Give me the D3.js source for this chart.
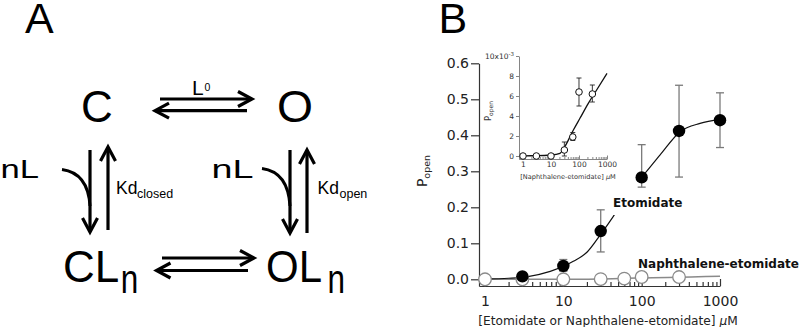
<!DOCTYPE html>
<html><head><meta charset="utf-8">
<script src="https://cdn.jsdelivr.net/npm/d3@7"></script>
<style>
html,body{margin:0;padding:0;background:#fff;}
svg{display:block;}
</style></head>
<body>
<svg id="fig" width="800" height="327"></svg>
<script>
// ---------------- DATA ----------------
const xTickValues = [1, 10, 100, 1000];
const yTickValues = [0, 0.1, 0.2, 0.3, 0.4, 0.5, 0.6];
const yTickLabels = ["0.0", "0.1", "0.2", "0.3", "0.4", "0.5", "0.6"];

// Etomidate (filled circles)
const concEtom = [3, 10, 30, 100, 300, 1000];
const popenEtom = [0.008, 0.037, 0.134, 0.283, 0.412, 0.442];
const errLoEtom = [0.004, 0.022, 0.076, 0.256, 0.284, 0.366];
const errHiEtom = [0.012, 0.055, 0.193, 0.374, 0.539, 0.518];
// Etomidate fit curve
const fitEtomX = [1, 2, 3.4, 6.8, 13.4, 20, 30, 43.5, 75, 103, 171, 310, 556, 1000];
const fitEtomY = [0.001, 0.003, 0.007, 0.022, 0.05, 0.075, 0.125, 0.175, 0.255, 0.287, 0.345, 0.41, 0.433, 0.444];

// Naphthalene-etomidate (open circles), Popen in units of 1e-3
const concNaph = [1, 3, 10, 30, 60, 100, 300];
const popenNaph = [0, 0, 0, 0.6, 1.9, 6.4, 6.2];
const errLoNaph = [0, 0, 0, 0, 1.55, 5.0, 5.4];
const errHiNaph = [0, 0, 0, 1.4, 2.35, 7.8, 7.1];
const fitNaphX = [1, 3, 10, 21, 31, 63, 108, 215, 427, 1000];
const fitNaphY = [0.02, 0.03, 0.1, 0.27, 0.93, 2.6, 3.77, 5.27, 6.6, 8.27];

const insetYTicks = [0, 2, 4, 6, 8, 10];
const insetXTicks = [1, 10, 100, 1000];

// ---------------- DRAW ----------------
const svg = d3.select("#fig");
const ARIAL = "'Liberation Sans', Arial, Helvetica, sans-serif";
const VERD = "'DejaVu Sans', Verdana, sans-serif";

// ===== Panel A (scheme) =====
const A = svg.append("g").attr("font-family", ARIAL).attr("fill", "#000");
A.append("text").attr("x", 25).attr("y", 33).attr("font-size", 43).text("A");
A.append("text").attr("x", 97).attr("y", 122).attr("font-size", 44).attr("text-anchor", "middle").text("C");
A.append("text").attr("x", 295).attr("y", 122).attr("font-size", 44).attr("text-anchor", "middle")
  .attr("textLength", 36).attr("lengthAdjust", "spacingAndGlyphs").text("O");
A.append("text").attr("x", 192).attr("y", 95).attr("font-size", 21).text("L");
A.append("text").attr("x", 204.5).attr("y", 91).attr("font-size", 10.5).text("0");
A.append("text").attr("x", 63).attr("y", 282).attr("font-size", 44).text("CL");
A.append("text").attr("x", 120.7).attr("y", 293).attr("font-size", 40)
  .attr("textLength", 17.5).attr("lengthAdjust", "spacingAndGlyphs").text("n");
A.append("text").attr("x", 266).attr("y", 282).attr("font-size", 44)
  .attr("textLength", 56).attr("lengthAdjust", "spacingAndGlyphs").text("OL");
A.append("text").attr("x", 327.5).attr("y", 293).attr("font-size", 40)
  .attr("textLength", 17.5).attr("lengthAdjust", "spacingAndGlyphs").text("n");
A.append("text").attr("x", 0.5).attr("y", 178).attr("font-size", 25)
  .attr("textLength", 38.5).attr("lengthAdjust", "spacingAndGlyphs").text("nL");
A.append("text").attr("x", 211.5).attr("y", 178).attr("font-size", 25)
  .attr("textLength", 42).attr("lengthAdjust", "spacingAndGlyphs").text("nL");
A.append("text").attr("x", 116).attr("y", 194.3).attr("font-size", 17.5).text("Kd");
A.append("text").attr("x", 137).attr("y", 198.3).attr("font-size", 12.5).text("closed");
A.append("text").attr("x", 317.5).attr("y", 194.3).attr("font-size", 17.5).text("Kd");
A.append("text").attr("x", 339.5).attr("y", 198.3).attr("font-size", 12.5).text("open");

function arrow(x1, y1, x2, y2) {
  const g = A.append("g").attr("stroke", "#000").attr("stroke-width", 3.2).attr("fill", "none");
  g.append("line").attr("x1", x1).attr("y1", y1).attr("x2", x2).attr("y2", y2);
  const ang = Math.atan2(y2 - y1, x2 - x1), L = 14, W = 7.5;
  const bx = x2 - L * Math.cos(ang), by = y2 - L * Math.sin(ang);
  const px = -Math.sin(ang) * W, py = Math.cos(ang) * W;
  g.append("polyline").attr("points", `${bx + px},${by + py} ${x2},${y2} ${bx - px},${by - py}`)
    .attr("stroke-linejoin", "miter");
}
arrow(160, 99, 252, 99);
arrow(247, 110.7, 155, 110.7);
arrow(162, 258, 254, 258);
arrow(248, 270.5, 156.5, 270.5);
arrow(90, 150, 90, 232);
arrow(108, 230, 108, 147);
arrow(290, 150, 290, 233);
arrow(307, 233, 307, 150);
A.append("path").attr("d", "M62,169.5 Q88,173 90,206").attr("stroke", "#000").attr("stroke-width", 3).attr("fill", "none");
A.append("path").attr("d", "M262,168.5 Q288,172 290,206").attr("stroke", "#000").attr("stroke-width", 3).attr("fill", "none");

// ===== Panel B =====
svg.append("text").attr("x", 438.5).attr("y", 33).attr("font-size", 43).attr("font-family", ARIAL).text("B");

const x = d3.scaleLog().domain([0.838, 1000]).range([479, 720]);
const y = d3.scaleLinear().domain([-0.0186, 0.6]).range([286, 63.3]);
const axisColor = "#333";

const B = svg.append("g").attr("font-family", VERD);

// y axis
const yAx = B.append("g").attr("transform", "translate(479,0)")
  .call(d3.axisLeft(y).tickValues(yTickValues).tickFormat((d, i) => yTickLabels[i]).tickSize(8).tickSizeOuter(0).tickPadding(2));
// x axis major
const xAx = B.append("g").attr("transform", "translate(0,286)")
  .call(d3.axisBottom(x).tickValues(xTickValues).tickFormat(d3.format("d")).tickSize(-7).tickSizeOuter(0).tickPadding(10));
// x axis minor
const minor = [];
[1, 10, 100].forEach(b => { for (let k = 2; k <= 9; k++) minor.push(b * k); });
B.append("g").attr("transform", "translate(0,286)")
  .call(d3.axisBottom(x).tickValues(minor).tickFormat("").tickSize(-4).tickSizeOuter(0))
  .select(".domain").remove();
[yAx, xAx].forEach(g => {
  g.selectAll("path,line").attr("stroke", axisColor).attr("stroke-width", 1.2);
  g.selectAll("text").attr("font-size", 14).attr("fill", "#222").attr("font-family", VERD);
});
B.selectAll(".tick line").attr("stroke", axisColor).attr("stroke-width", 1.2);

// axis titles
const xt = B.append("text").attr("x", 608).attr("y", 325).attr("text-anchor", "middle")
  .attr("font-size", 12.2).attr("fill", "#222");
xt.append("tspan").text("[Etomidate or Naphthalene-etomidate] ");
xt.append("tspan").attr("font-style", "italic").text("μ");
xt.append("tspan").text("M");
const yt = B.append("text").attr("transform", "translate(427,171) rotate(-90)")
  .attr("text-anchor", "middle").attr("font-size", 14).attr("fill", "#222");
yt.append("tspan").text("P");
yt.append("tspan").attr("font-size", 9.5).attr("dy", 3).text("open");

const line = d3.line().curve(d3.curveMonotoneX);

// naphthalene fit in main (values *1e-3)
B.append("path")
  .attr("d", line(fitNaphX.map((c, i) => [x(c), y(fitNaphY[i] / 1000)])))
  .attr("fill", "none").attr("stroke", "#8a8a8a").attr("stroke-width", 1.5);
// etomidate fit
B.append("path")
  .attr("d", line(fitEtomX.map((c, i) => [x(c), y(fitEtomY[i])])))
  .attr("fill", "none").attr("stroke", "#111").attr("stroke-width", 1.2);

// label backgrounds and labels
B.append("rect").attr("x", 609).attr("y", 181).attr("width", 80).attr("height", 34).attr("fill", "#fff");
B.append("text").attr("x", 613).attr("y", 206.5).attr("font-size", 12).attr("font-weight", "bold").attr("fill", "#111").text("Etomidate");
B.append("text").attr("x", 638).attr("y", 267.5).attr("font-size", 12).attr("font-weight", "bold").attr("fill", "#111").text("Naphthalene-etomidate");

// naphthalene circles (main)
B.append("g").selectAll("circle").data(concNaph).join("circle")
  .attr("cx", d => x(d)).attr("cy", (d, i) => y(popenNaph[i] / 1000)).attr("r", 6.3)
  .attr("fill", "#fff").attr("stroke", "#8a8a8a").attr("stroke-width", 1.3);

// etomidate error bars
const eb = B.append("g").attr("stroke", "#7a7a7a").attr("stroke-width", 1.3);
concEtom.forEach((c, i) => {
  const cx = x(c);
  eb.append("line").attr("x1", cx).attr("x2", cx).attr("y1", y(errLoEtom[i])).attr("y2", y(errHiEtom[i]));
  eb.append("line").attr("x1", cx - 4).attr("x2", cx + 4).attr("y1", y(errLoEtom[i])).attr("y2", y(errLoEtom[i]));
  eb.append("line").attr("x1", cx - 4).attr("x2", cx + 4).attr("y1", y(errHiEtom[i])).attr("y2", y(errHiEtom[i]));
});
B.append("g").selectAll("circle").data(concEtom).join("circle")
  .attr("cx", d => x(d)).attr("cy", (d, i) => y(popenEtom[i])).attr("r", 6.2).attr("fill", "#000");

// ===== Inset =====
const xi = d3.scaleLog().domain([0.72, 1000]).range([519, 607]);
const yi = d3.scaleLinear().domain([-0.3, 10]).range([159, 56]);
const I = svg.append("g").attr("font-family", VERD);
const iy = I.append("g").attr("transform", "translate(519,0)")
  .call(d3.axisLeft(yi).tickValues(insetYTicks).tickFormat(d => d === 10 ? "" : d).tickSize(3).tickSizeOuter(0).tickPadding(2));
const ix = I.append("g").attr("transform", "translate(0,159)")
  .call(d3.axisBottom(xi).tickValues(insetXTicks).tickFormat(d3.format("d")).tickSize(-3.5).tickSizeOuter(0).tickPadding(2.5));
I.append("g").attr("transform", "translate(0,159)")
  .call(d3.axisBottom(xi).tickValues(minor).tickFormat("").tickSize(-2).tickSizeOuter(0))
  .select(".domain").remove();
I.selectAll("path,line").attr("stroke", "#666").attr("stroke-width", 0.8);
[iy, ix].forEach(g => g.selectAll("text").attr("font-size", 7.5).attr("fill", "#333").attr("font-family", VERD));
const lab10 = I.append("text").attr("x", 514).attr("y", yi(10) + 3).attr("text-anchor", "end")
  .attr("font-size", 7.5).attr("fill", "#333");
lab10.append("tspan").text("10x10");
lab10.append("tspan").attr("font-size", 5.5).attr("dy", -3.5).text("-3");
const it = I.append("text").attr("x", 568).attr("y", 179).attr("text-anchor", "middle").attr("font-size", 6.6).attr("fill", "#333");
it.append("tspan").text("[Naphthalene-etomidate] ");
it.append("tspan").attr("font-style", "italic").text("μ");
it.append("tspan").text("M");
const iyt = I.append("text").attr("transform", "translate(491,111) rotate(-90)")
  .attr("text-anchor", "middle").attr("font-size", 8.5).attr("fill", "#333");
iyt.append("tspan").text("P");
iyt.append("tspan").attr("font-size", 6).attr("dy", 2).text("open");

I.append("path").attr("d", line(fitNaphX.map((c, i) => [xi(c), yi(fitNaphY[i])])))
  .attr("fill", "none").attr("stroke", "#111").attr("stroke-width", 1.3);
const ieb = I.append("g").attr("stroke", "#222").attr("stroke-width", 0.9);
concNaph.forEach((c, i) => {
  if (errHiNaph[i] === errLoNaph[i]) return;
  const cx = xi(c);
  ieb.append("line").attr("x1", cx).attr("x2", cx).attr("y1", yi(errLoNaph[i])).attr("y2", yi(errHiNaph[i]));
  ieb.append("line").attr("x1", cx - 2.5).attr("x2", cx + 2.5).attr("y1", yi(errLoNaph[i])).attr("y2", yi(errLoNaph[i]));
  ieb.append("line").attr("x1", cx - 2.5).attr("x2", cx + 2.5).attr("y1", yi(errHiNaph[i])).attr("y2", yi(errHiNaph[i]));
});
I.append("g").selectAll("circle").data(concNaph).join("circle")
  .attr("cx", d => xi(d)).attr("cy", (d, i) => yi(popenNaph[i])).attr("r", 3.3)
  .attr("fill", "#fff").attr("stroke", "#111").attr("stroke-width", 1);
</script>
</body></html>
